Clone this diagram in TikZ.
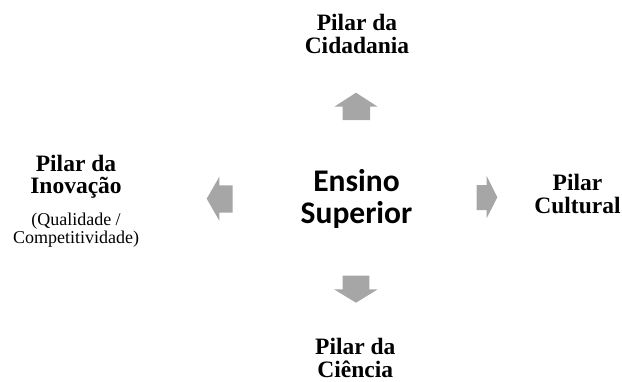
\documentclass[tikz,border=0pt]{standalone}
\usepackage{fontspec}
\setmainfont{Liberation Serif}
\newfontfamily\calib{Carlito}
\definecolor{arrowgray}{HTML}{A6A6A6}
\tikzset{
  blockarrow/.style={fill=arrowgray, draw=none},
  pillar/.style={font=\bfseries\fontsize{23.5}{22.5}\selectfont, align=center, inner sep=0pt, anchor=base},
  subnote/.style={font=\fontsize{18}{18}\selectfont, align=center, inner sep=0pt, anchor=base},
  hub/.style={font=\calib\bfseries\fontsize{31.5}{31.5}\selectfont, align=center, inner sep=0pt, anchor=base}
}
\begin{document}
\begin{tikzpicture}[x=1pt,y=-1pt]
\useasboundingbox (0,0) rectangle (622,381);
% centre
\node[hub] (hub) at (356.5,223.3) {Ensino\\Superior};
% block arrows
\fill[blockarrow] (342.7,120) -- (342.7,106.7) -- (334.3,106.7) -- (356,92.7) -- (377.7,106.7) -- (370,106.7) -- (370,120) -- cycle;
\fill[blockarrow] (342.7,275.7) -- (369.3,275.7) -- (369.3,289.3) -- (377.7,289.3) -- (356,302.7) -- (334,289.3) -- (342.7,289.3) -- cycle;
\fill[blockarrow] (232.7,185.3) -- (219.3,185.3) -- (219.3,176.7) -- (206.7,198.7) -- (219.3,220.7) -- (219.3,212.7) -- (232.7,212.7) -- cycle;
\fill[blockarrow] (476.7,185) -- (486.7,185) -- (486.7,176) -- (497.3,197.2) -- (486.7,218.3) -- (486.7,210) -- (476.7,210) -- cycle;
% pillars
\node[pillar] (cid) at (357,53.3) {Pilar da\\Cidadania};
\node[pillar] (cie) at (355.3,377.3) {Pilar da\\Ciência};
\node[pillar] (cul) at (577.5,213.3) {Pilar\\Cultural};
\node[pillar] (ino) at (76,193.5) {Pilar da\\Inovação};
\node[subnote] (qual) at (76,243) {(Qualidade /\\Competitividade)};
\end{tikzpicture}
\end{document}
